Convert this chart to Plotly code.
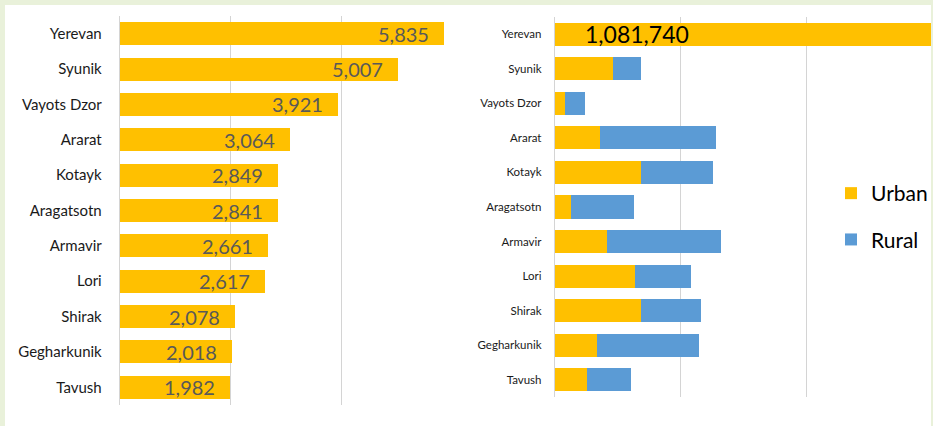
import plotly.graph_objects as go

regions = ["Yerevan", "Syunik", "Vayots Dzor", "Ararat", "Kotayk", "Aragatsotn",
           "Armavir", "Lori", "Shirak", "Gegharkunik", "Tavush"]
left_values = [5835, 5007, 3921, 3064, 2849, 2841, 2661, 2617, 2078, 2018, 1982]
urban = [1081740, 93200, 16400, 71900, 137600, 26500, 82500, 127000, 136500, 66700, 51300]
rural = [0, 43800, 31700, 185200, 113700, 98900, 182100, 88900, 96800, 161900, 70400]

W, H = 933, 426
YELLOW = "#FFC000"
BLUE = "#5B9BD5"
GRID = "#D4D4D4"
FONT = "Lato"

fig = go.Figure()

fig.add_trace(go.Bar(
    x=left_values, y=regions, orientation="h", width=0.65,
    marker=dict(color=YELLOW, line=dict(width=0)),
    xaxis="x", yaxis="y", showlegend=False, hoverinfo="x+y",
))
fig.add_trace(go.Bar(
    x=urban, y=regions, orientation="h", width=0.667, name="Urban",
    marker=dict(color=YELLOW, line=dict(width=0)),
    xaxis="x2", yaxis="y2", legendgroup="u",
))
fig.add_trace(go.Bar(
    x=rural, y=regions, orientation="h", width=0.667, name="Rural",
    marker=dict(color=BLUE, line=dict(width=0)),
    xaxis="x2", yaxis="y2", legendgroup="r",
))

annotations = []
for r, v in zip(regions, left_values):
    annotations.append(dict(
        x=v, y=r, xref="x", yref="y", text=f"{v:,}", showarrow=False,
        xanchor="right", xshift=-13, font=dict(family=FONT, size=20, color="#595959"),
    ))
annotations.append(dict(
    x=0, y=regions[0], xref="x2", yref="y2", text=f"{urban[0]:,}", showarrow=False,
    xanchor="left", xshift=28, font=dict(family=FONT, size=23, color="#000000"),
))

fig.update_layout(
    width=W, height=H,
    margin=dict(l=0, r=0, t=0, b=0),
    paper_bgcolor="#E9F1DA",
    plot_bgcolor="rgba(0,0,0,0)",
    barmode="stack",
    font=dict(family=FONT, color="#1A1A1A"),
    shapes=[dict(type="rect", xref="paper", yref="paper", x0=5 / W, x1=1, y0=0, y1=1 - 5 / H,
                 fillcolor="#FFFFFF", line=dict(width=0), layer="below")],
    annotations=annotations,
    xaxis=dict(domain=[120 / W, 454 / W], range=[0, 6000], dtick=2000, showticklabels=False,
               showgrid=True, gridcolor=GRID, gridwidth=1, zeroline=False, fixedrange=True),
    yaxis=dict(domain=[1 - 405 / H, 1 - 16 / H], categoryorder="array", categoryarray=regions,
               autorange="reversed", showline=True, linecolor=GRID, linewidth=1,
               ticks="", ticklabelstandoff=14, tickfont=dict(family=FONT, size=15, color="#1A1A1A")),
    xaxis2=dict(domain=[556 / W, 1], range=[0, 598400], dtick=200000, showticklabels=False,
                showgrid=True, gridcolor=GRID, gridwidth=1, zeroline=False),
    yaxis2=dict(domain=[1 - 397 / H, 1 - 17 / H], anchor="x2", categoryorder="array",
                categoryarray=regions, autorange="reversed", showline=True, linecolor=GRID,
                linewidth=1, ticks="", ticklabelstandoff=10,
                tickfont=dict(family=FONT, size=11.5, color="#1A1A1A")),
    legend=dict(x=833 / W, xanchor="left", y=1 - 173 / H, yanchor="top",
                bgcolor="rgba(0,0,0,0)", font=dict(family=FONT, size=21, color="#000000"),
                traceorder="grouped", tracegroupgap=16),
)

fig.write_html("out.html", config={"displayModeBar": False},
               post_script="document.body.style.margin='0';document.body.style.overflow='hidden';")
